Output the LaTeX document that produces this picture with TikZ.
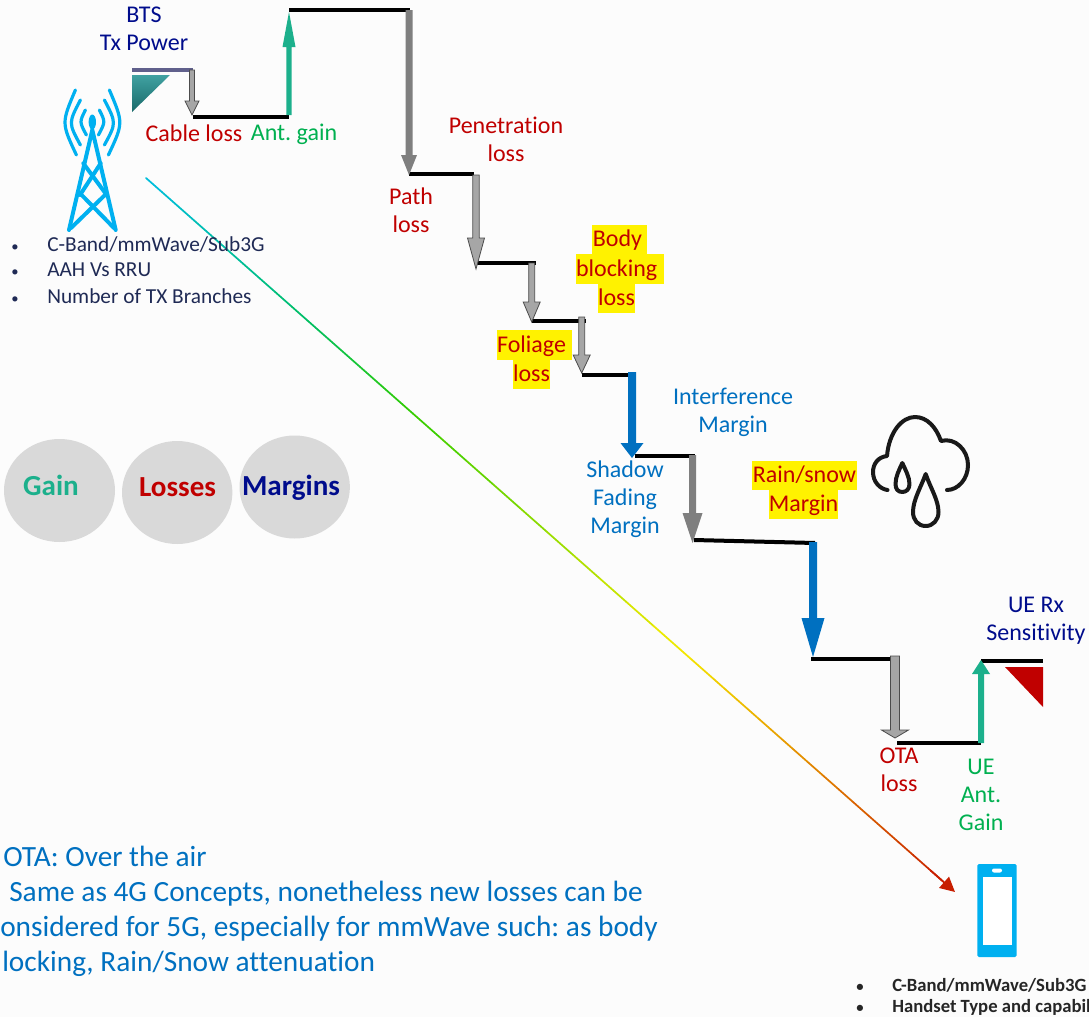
\documentclass[tikz,border=0pt]{standalone}
\usepackage{fontspec}
\setmainfont{Carlito}[Ligatures=NoCommon]
\usetikzlibrary{calc,arrows.meta}
\definecolor{bgc}{HTML}{FCFCFC}
\definecolor{lred}{HTML}{C00000}
\definecolor{lgreen}{HTML}{00B050}
\definecolor{lnavy}{HTML}{000C8C}
\definecolor{lblue}{HTML}{0070C0}
\definecolor{ltxt}{HTML}{1F2A55}
\definecolor{teal1}{HTML}{1CB08C}
\definecolor{sky}{HTML}{00B0F0}
\definecolor{grayA}{HTML}{A6A6A6}
\definecolor{grayB}{HTML}{7F7F7F}
\definecolor{gs0}{RGB}{0,190,225}
\definecolor{gs1}{RGB}{0,190,100}
\definecolor{gs2}{RGB}{50,205,0}
\definecolor{gs3}{RGB}{245,235,0}
\definecolor{gs4}{RGB}{230,150,0}
\definecolor{gs5}{RGB}{200,30,0}
\newcommand{\bdot}{{\fontsize{11}{11}\selectfont •}}
\frenchspacing
\tikzset{
 lbl/.style={font=\fontsize{18}{21}\selectfont\frenchspacing,align=center,inner sep=0pt},
 hl/.style={font=\fontsize{18}{21}\selectfont,inner sep=0pt,text=lred,fill=yellow,anchor=center,text height=16.5pt,text depth=5.5pt},
 bul/.style={font=\fontsize{16}{19}\selectfont,text=ltxt,anchor=west,inner sep=0pt},
 bulb/.style={font=\fontsize{14}{17}\bfseries\selectfont,text=black!85,anchor=west,inner sep=0pt},
 note/.style={font=\fontsize{22}{26}\selectfont\frenchspacing,text=lblue,anchor=west,inner sep=0pt},
 legendt/.style={font=\fontsize{21.8}{26}\bfseries\selectfont,inner sep=0pt},
 stairline/.style={line width=3pt,black},
 gblock/.style={fill=grayA,draw=black!70,line width=.6pt},
 fblock/.style={fill=#1,draw=none},
 towerl/.style={sky,line width=3pt,line cap=round},
 cloudl/.style={black!90,line width=3pt,line cap=round,line join=round},
}
% block arrow between named coordinates: from, to, head length, shaft half, head half, style
\newcommand{\blockarrow}[6]{%
 \path[#6] ($(#1)+(-#4,0)$) -- ($(#2)+(-#4,-#3)$) -- ($(#2)+(-#5,-#3)$) -- (#2)
   -- ($(#2)+(#5,-#3)$) -- ($(#2)+(#4,-#3)$) -- ($(#1)+(#4,0)$) -- cycle;}
\begin{document}
\begin{tikzpicture}[x=0.75pt,y=-0.75pt]
\useasboundingbox (0,0) rectangle (1089,1017);
\fill[bgc] (0,0) rectangle (1089,1017);

% legend circles
\path[fill=black!15] (59.5,490.5) ellipse (55.5 and 51.5);
\path[fill=black!15] (177.2,492.5) ellipse (55.2 and 51.5);
\path[fill=black!15] (294.7,487) ellipse (55.2 and 51.5);
\node[legendt,text=teal1] (lgain) at (51,485) {Gain};
\node[legendt,text=lred] (lloss) at (177.5,487.5) {Losses};
\node[legendt,text=lnavy] (lmarg) at (291,487.5) {Margins};

% gradient link
\coordinate (src) at (146,178);
\coordinate (dst) at (955,892);
\foreach \sa/\sb/\ca/\cb in {0/.2/gs0/gs1,.2/.33/gs1/gs2,.33/.66/gs2/gs3,.66/.8/gs3/gs4,.8/.985/gs4/gs5}{
 \foreach \pp in {0,10,...,90}{
  \pgfmathsetmacro{\ta}{\sa+(\sb-\sa)*\pp/100}
  \pgfmathsetmacro{\tb}{\sa+(\sb-\sa)*(\pp+10)/100}
  \pgfmathsetmacro{\mx}{100-\pp-5}
  \draw[color=\ca!\mx!\cb,line width=1.3pt,line cap=round] ($(src)!\ta!(dst)$) -- ($(src)!\tb!(dst)$);
 }
}
\draw[gs5,line width=1.3pt,-{Triangle[length=11pt,width=11pt]}] ($(src)!.97!(dst)$) -- (dst);

% BTS triangle
\shade[top color=teal!30!cyan!60!black!75,bottom color=teal!70!black!90] (132,75) -- (170,75) -- (132,112) -- cycle;
\draw[color=black!30!blue!25!gray,line width=3pt] (132,70) -- (193,70);

% staircase corners
\coordinate (a0) at (192,70);   \coordinate (a1) at (192,115);
\coordinate (b0) at (193,117);  \coordinate (b1) at (289,117);
\coordinate (c0) at (289,115);  \coordinate (c1) at (289,12);
\coordinate (d0) at (289,10);   \coordinate (d1) at (410,10);
\coordinate (e0) at (409,10);   \coordinate (e1) at (409,175);
\coordinate (f0) at (409,174);  \coordinate (f1) at (474,174);
\coordinate (g0) at (476,175);  \coordinate (g1) at (476,269);
\coordinate (h0) at (477,262.7);\coordinate (h1) at (536,262.7);
\coordinate (i0) at (531.7,263);\coordinate (i1) at (531.7,322);
\coordinate (j0) at (532,321);  \coordinate (j1) at (586,321);
\coordinate (k0) at (581.7,317);\coordinate (k1) at (581.7,373);
\coordinate (l0) at (582,375);  \coordinate (l1) at (636,375);
\coordinate (m0) at (632,372);  \coordinate (m1) at (632,458);
\coordinate (n0) at (635,455.5);\coordinate (n1) at (695,455.5);
\coordinate (o0) at (692.5,455);\coordinate (o1) at (692.5,543);
\coordinate (p0) at (694,540);  \coordinate (p1) at (815,543);
\coordinate (q0) at (813,542);  \coordinate (q1) at (813,657);
\coordinate (r0) at (811,659);  \coordinate (r1) at (892,659);
\coordinate (s0) at (895,656);  \coordinate (s1) at (895,738);
\coordinate (t0) at (897,742.5);\coordinate (t1) at (981,742.5);
\coordinate (u0) at (981,743);  \coordinate (u1) at (981,660);
\coordinate (v0) at (981,660.5);\coordinate (v1) at (1043,660.5);

\foreach \p in {b,d,f,h,j,l,n,p,r,t,v}{\draw[stairline] (\p0) -- (\p1);}

\blockarrow{a0}{a1}{14}{2.5}{7}{gblock}
\blockarrow{c0}{c1}{-35}{2.6}{6.5}{fblock=teal1}
\blockarrow{e0}{e1}{20}{3.5}{8}{fblock=grayB}
\blockarrow{g0}{g1}{31}{3.2}{8.5}{gblock}
\blockarrow{i0}{i1}{20}{3}{8.5}{gblock}
\blockarrow{k0}{k1}{18}{3}{8.5}{gblock}
\blockarrow{m0}{m1}{15}{4}{11.5}{fblock=lblue}
\blockarrow{o0}{o1}{30}{3.5}{10}{fblock=grayB}
\blockarrow{q0}{q1}{39}{4}{11.5}{fblock=lblue}
\blockarrow{s0}{s1}{8}{4.5}{13.5}{gblock}
\blockarrow{u0}{u1}{-14}{3}{9}{fblock=teal1}

% UE triangle
\fill[lred] (1005,667) -- (1043,667) -- (1043,707) -- cycle;

% labels
\node[lbl,text=lnavy] (tbts) at (144,29) {BTS\\Tx Power};
\node[lbl,text=lred] (tcable) at (194,133) {Cable loss};
\node[lbl,text=lgreen] (tant) at (294,134.5) {Ant. gain};
\node[lbl,text=lred] (tpen) at (506,139.5) {Penetration\\loss};
\node[lbl,text=lred] (tpath) at (411,210) {Path\\loss};
\node[hl,minimum width=41.25pt] (tb1) at (619.5,239.5) {Body\hspace*{3pt}};
\node[hl,minimum width=66pt] (tb2) at (620,269) {blocking\hspace*{5pt}};
\node[hl,minimum width=27.75pt] (tb3) at (616.5,298.5) {loss};
\node[hl,minimum width=56.25pt] (tf1) at (534.5,345) {Foliage\hspace*{4.5pt}};
\node[hl,minimum width=27.75pt] (tf2) at (531.5,374.5) {loss};
\node[hl,minimum width=78.75pt] (tr1) at (804.5,475.5) {Rain/snow};
\node[hl,minimum width=51.75pt] (tr2) at (803.5,504.5) {Margin};
\node[lbl,text=lblue] (tint) at (733,412) {Interference\\Margin};
\node[lbl,text=lblue] (tsha) at (625,499) {Shadow\\Fading\\Margin};
\node[lbl,text=lred] (tota) at (899,769.5) {OTA\\loss};
\node[lbl,text=lgreen] (tue) at (981,795) {UE\\Ant.\\Gain};
\node[lbl,text=lnavy] (trx) at (1036,621) {UE Rx\\Sensitivity};

% bullets left
\node[bul] (bl1) at (11,245) {\makebox[27pt][l]{\bdot}C-Band/mmWave/Sub3G};
\node[bul] (bl2) at (11,270) {\makebox[27pt][l]{\bdot}AAH Vs RRU};
\node[bul] (bl3) at (11,296) {\makebox[27pt][l]{\bdot}Number of TX Branches};
% bullets right
\node[bulb] (br1) at (856,985) {\makebox[27pt][l]{\bdot}C-Band/mmWave/Sub3G};
\node[bulb] (br2) at (856,1007) {\makebox[27pt][l]{\bdot}Handset Type and capabil};

% notes
\node[note] (n1t) at (3,856) {OTA: Over the air};
\node[note] (n2t) at (9,894) {Same as 4G Concepts, nonetheless new losses can be};
\node[note] (n3t) at (0,929) {onsidered for 5G, especially for mmWave such: as body};
\node[note] (n4t) at (2,964) {locking, Rain/Snow attenuation};

% tower
\draw[towerl] (69,230) -- (92.3,130) -- (115.7,230);
\draw[towerl] (83.3,163.3) -- (106.7,195);
\draw[towerl] (100.7,163.3) -- (80,195);
\draw[towerl] (80,193.3) -- (114,228);
\draw[towerl] (106.7,193.3) -- (71,228);
\fill[sky] (92.3,122) ellipse (3.7 and 7.5);
\foreach \sgn in {-1,1}{
 \draw[towerl,line width=2.4pt] ({92.4+\sgn*7},110) .. controls ({92.4+\sgn*13},122) .. ({92.4+\sgn*6},135);
 \draw[towerl,line width=2.4pt] ({92.4+\sgn*12},100) .. controls ({92.4+\sgn*24},123) .. ({92.4+\sgn*12},145);
 \draw[towerl,line width=2.4pt] ({92.4+\sgn*17},90) .. controls ({92.4+\sgn*31},123) .. ({92.4+\sgn*16},155);
}

% cloud
\draw[cloudl] (887.5,490) .. controls (880,489) and (873,482) .. (873,472) .. controls (873,464) and (878,457) .. (887,456)
  .. controls (889,432) and (902,417) .. (915,417) .. controls (927,417) and (936,427) .. (941,441)
  .. controls (955,437) and (968,450) .. (968,465) .. controls (968,479) and (958,490) .. (947,490);
\draw[cloudl] (902.3,463) .. controls (899,470) and (895.5,477) .. (895.5,484) .. controls (895.5,489) and (898,492) .. (902.3,492)
  .. controls (906.5,492) and (909.5,489) .. (909.5,484) .. controls (909.5,477) and (905.5,470) .. (902.3,463) -- cycle;
\draw[cloudl] (925.7,474) .. controls (921,487) and (913,500) .. (913,512) .. controls (913,520) and (918,526) .. (925.7,526)
  .. controls (933,526) and (938.5,520) .. (938.5,512) .. controls (938.5,500) and (930,487) .. (925.7,474) -- cycle;

% phone
\fill[sky,rounded corners=1.2pt] (977.3,864) rectangle (1016.7,957);
\fill[white] (982.5,876.7) rectangle (1012,945);
\fill[white,rounded corners=1.5pt] (992,868.5) rectangle (1002,872.5);
\end{tikzpicture}
\end{document}
